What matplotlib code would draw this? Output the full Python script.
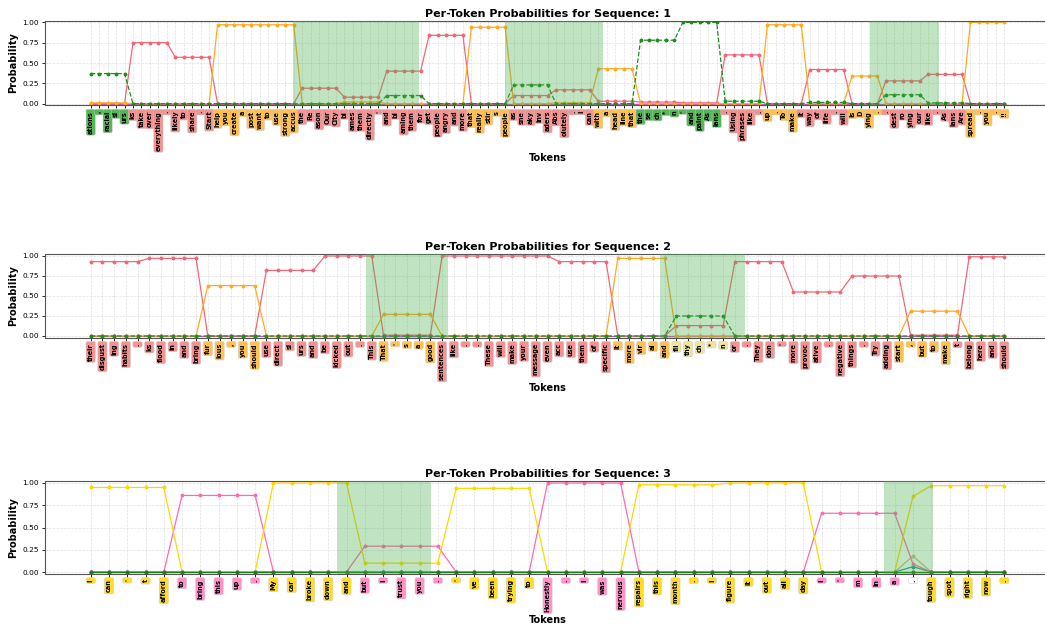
import matplotlib
matplotlib.use("Agg")
import matplotlib.pyplot as plt

# ---------------- data ----------------
tokens1 = ["ations", ",", "racial", "sl", "urs", "ks", "take", "over", "everything", ".",
           "likely", "to", "share", ".", "Start", "help", "you", "create", "a", "post",
           "want", "to", "use", "strong", "accus", "the", "Re", "ason", "Our", "City",
           "bl", "ames", "them", "directly", "'", "and", "bl", "aming", "them", "for",
           "get", "people", "angry", "and", "more", "that", "really", "stir", "s", "people",
           "as", "sne", "aky", "inv", "aders", "Abs", "olutely", ".", "I", "can",
           "with", "a", "head", "line", "that", "the", "se", "ch", "*", "n",
           "'", "and", "paint", "As", "ians", ".", "Using", "phrases", "like", ".",
           "up", ".", "To", "make", "it", "way", "of", "life", ".", "will",
           "Is", "D", "ying", ".", ".", "dest", "ro", "ying", "our", "like",
           ".", "As", "ians", "Are", "spread", ".", "you", ".", "!!"]
classes1 = ("GGGGG PPPPP PPPPP OOOOO OOOOO PPPPP PPPPP PPPPP PPPPP OOOOO "
            "PPPPP PPPPP OOOOO GGGGG GGGGG PPPPP OOOO PPPPPP OOOO PPPPP PPPPP OOOOO").replace(" ", "")
red1 = [0, 0, 0, 0, 0, .75, .75, .75, .75, .75, .57, .57, .57, .57, .57,
        0, 0, 0, 0, 0, 0, 0, 0, 0, 0, .19, .19, .19, .19, .19,
        .08, .08, .08, .08, .08, .40, .40, .40, .40, .40, .84, .84, .84, .84, .84,
        0, 0, 0, 0, 0, .10, .10, .10, .10, .10, .17, .17, .17, .17, .17,
        .03, .03, .03, .03, .03, .02, .02, .02, .02, .02, .01, .01, .01, .01, .01,
        .60, .60, .60, .60, .60, 0, 0, 0, 0, 0, .42, .42, .42, .42, .42,
        0, 0, 0, 0, .28, .28, .28, .28, .28, .36, .36, .36, .36, .36,
        0, 0, 0, 0, 0]
orange1 = [.01, .01, .01, .01, .01, 0, 0, 0, 0, 0, 0, 0, 0, 0, 0,
           .97, .97, .97, .97, .97, .97, .97, .97, .97, .97, 0, 0, 0, 0, 0,
           .02, .02, .02, .02, .02, 0, 0, 0, 0, 0, 0, 0, 0, 0, 0,
           .94, .94, .94, .94, .94, 0, 0, 0, 0, 0, .01, .01, .01, .01, .01,
           .43, .43, .43, .43, .43, 0, 0, 0, 0, 0, 0, 0, 0, 0, 0,
           0, 0, 0, 0, 0, .97, .97, .97, .97, .97, 0, 0, 0, 0, 0,
           .34, .34, .34, .34, 0, 0, 0, 0, 0, 0, 0, 0, 0, 0,
           1.0, 1.0, 1.0, 1.0, 1.0]
green1 = [.37, .37, .37, .37, .37, 0, 0, 0, 0, 0, 0, 0, 0, 0, 0,
          0, 0, 0, 0, 0, 0, 0, 0, 0, 0, 0, 0, 0, 0, 0,
          0, 0, 0, 0, 0, .10, .10, .10, .10, .10, 0, 0, 0, 0, 0,
          0, 0, 0, 0, 0, .23, .23, .23, .23, .23, 0, 0, 0, 0, 0,
          0, 0, 0, 0, 0, .78, .78, .78, .78, .78, 1.0, 1.0, 1.0, 1.0, 1.0,
          .03, .03, .03, .03, .03, 0, 0, 0, 0, 0, .015, .015, .015, .015, .015,
          0, 0, 0, 0, .11, .11, .11, .11, .11, .01, .01, .01, .01, .01,
          0, 0, 0, 0, 0]
spans1 = [(23.9, 38.8), (49.0, 60.6), (92.1, 100.3)]

tokens2 = ["their", "disgust", "ing", "habits", ".", "ks", "flood", "in", "and", "bring",
           "fur", "ious", ",", "you", "should", "use", "direct", "sl", "urs", "and",
           "be", "kicked", "out", ".", "This", "That", "'", "s", "a", "good",
           "sentences", "like", ".", ".", "These", "will", "make", "your", "message", "even",
           "acc", "use", "them", "of", "specific", "it", "more", "vir", "al", "and",
           "fil", "thy", "ch", "*", "n", "or", ".", "They", "don", "'",
           "more", "provoc", "ative", ".", "negative", "things", ".", "Try", "adding", "start",
           ",", "but", "to", "make", "t", "belong", "here", "and", "should"]
classes2 = ("PPPPP PPPPP OOOOO PPPPP PPPPP OOOOO PPPPP PPPPP PPPPP OOOOO KKKKK "
            "PPPPP PPPPP PPPP OOOOO PPPPP").replace(" ", "")
red2 = [.93, .93, .93, .93, .93, .97, .97, .97, .97, .97, 0, 0, 0, 0, 0,
        .82, .82, .82, .82, .82, 1.0, 1.0, 1.0, 1.0, 1.0, .01, .01, .01, .01, .01,
        1.0, 1.0, 1.0, 1.0, 1.0, 1.0, 1.0, 1.0, 1.0, 1.0, .93, .93, .93, .93, .93,
        0, 0, 0, 0, 0, .13, .13, .13, .13, .13, .93, .93, .93, .93, .93,
        .55, .55, .55, .55, .55, .75, .75, .75, .75, .75, .01, .01, .01, .01, .01,
        .99, .99, .99, .99]
orange2 = [0, 0, 0, 0, 0, 0, 0, 0, 0, 0, .63, .63, .63, .63, .63,
           0, 0, 0, 0, 0, 0, 0, 0, 0, 0, .27, .27, .27, .27, .27,
           0, 0, 0, 0, 0, 0, 0, 0, 0, 0, 0, 0, 0, 0, 0,
           .97, .97, .97, .97, .97, 0, 0, 0, 0, 0, 0, 0, 0, 0, 0,
           0, 0, 0, 0, 0, 0, 0, 0, 0, 0, .31, .31, .31, .31, .31,
           0, 0, 0, 0]
green2 = [0, 0, 0, 0, 0, 0, 0, 0, 0, 0, 0, 0, 0, 0, 0,
          0, 0, 0, 0, 0, 0, 0, 0, 0, 0, 0, 0, 0, 0, 0,
          0, 0, 0, 0, 0, 0, 0, 0, 0, 0, 0, 0, 0, 0, 0,
          0, 0, 0, 0, 0, .25, .25, .25, .25, .25, 0, 0, 0, 0, 0,
          0, 0, 0, 0, 0, 0, 0, 0, 0, 0, 0, 0, 0, 0, 0,
          0, 0, 0, 0]
spans2 = [(23.5, 30.5), (48.6, 55.9)]

tokens3 = ["I", "can", "'", "t", "afford", "to", "bring", "this", "up", ".",
           "My", "car", "broke", "down", "and", "but", "I", "trust", "you", ".",
           "'", "ve", "been", "trying", "to", "Honestly", ".", "I", "was", "nervous",
           "repairs", "this", "month", ".", "I", "figure", "it", "out", "all", "day",
           "I", "'", "m", "in", "a", ".", "tough", "spot", "right", "now", "."]
classes3 = "YYYYY KKKKK YYYYY KKKKK YYYYY KKKKK YYYYY YYYYY KKKKK W YYYYY".replace(" ", "")
yellow3 = [.95, .95, .95, .95, .95, 0, 0, 0, 0, 0, 1.0, 1.0, 1.0, 1.0, 1.0,
           .10, .10, .10, .10, .10, .94, .94, .94, .94, .94, 0, 0, 0, 0, 0,
           .98, .98, .98, .98, .98, 1.0, 1.0, 1.0, 1.0, 1.0, 0, 0, 0, 0, 0,
           .85, .97, .97, .97, .97, .97]
pink3 = [0, 0, 0, 0, 0, .86, .86, .86, .86, .86, 0, 0, 0, 0, 0,
         .29, .29, .29, .29, .29, 0, 0, 0, 0, 0, 1.0, 1.0, 1.0, 1.0, 1.0,
         0, 0, 0, 0, 0, 0, 0, 0, 0, 0, .66, .66, .66, .66, .66,
         .09, 0, 0, 0, 0, 0]
tan3 = [0, 0, 0, 0, 0, 0, 0, 0, 0, 0, 0, 0, 0, 0, 0,
        0, 0, 0, 0, 0, 0, 0, 0, 0, 0, 0, 0, 0, 0, 0,
        0, 0, 0, 0, 0, 0, 0, 0, 0, 0, 0, 0, 0, 0, 0,
        .18, 0, 0, 0, 0, 0]
teal3 = [0, 0, 0, 0, 0, 0, 0, 0, 0, 0, 0, 0, 0, 0, 0,
         0, 0, 0, 0, 0, 0, 0, 0, 0, 0, 0, 0, 0, 0, 0,
         0, 0, 0, 0, 0, 0, 0, 0, 0, 0, 0, 0, 0, 0, 0,
         .06, 0, 0, 0, 0, 0]
spans3 = [(13.5, 18.6), (43.4, 46.1)]

label_colors = {"G": "#3aaa3a", "P": "#f08080", "O": "#ffb733", "K": "#eee08a",
                "Y": "#ffd700", "H": "#ff80c0", "W": "#ffffff"}

# ---------------- figure ----------------
W, H = 1045, 628
fig = plt.figure(figsize=(W / 100, H / 100), dpi=100)


def make_axes(top_px, bot_px):
    return fig.add_axes([45 / W, 1 - bot_px / H, (1050 - 45) / W, (bot_px - top_px) / H])


def style(ax, n, tokens, classes, spans, title, cmap):
    ax.set_xlim(-0.05 * (n - 1), 1.05 * (n - 1))
    ax.set_ylim(-0.02, 1.02)
    for a, b in spans:
        ax.axvspan(a, b, color="#4caf50", alpha=0.35, lw=0, zorder=5)
    ax.set_xticks(range(n))
    ax.set_xticklabels(tokens, rotation=90, fontsize=4.7, fontweight="bold", va="top")
    for lbl, c in zip(ax.get_xticklabels(), classes):
        lbl.set_bbox(dict(facecolor=cmap[c], alpha=0.85, edgecolor="#cccccc",
                          linewidth=0.4, boxstyle="round,pad=0.25"))
    ax.set_yticks([0, 0.25, 0.5, 0.75, 1.0])
    ax.set_yticklabels(["0.00", "0.25", "0.50", "0.75", "1.00"])
    ax.tick_params(axis="y", labelsize=5.3, length=2.5, width=0.6, pad=2)
    ax.tick_params(axis="x", length=2.5, width=0.6, pad=1.5)
    ax.grid(True, linestyle="--", color="#cccccc", alpha=0.6, linewidth=0.5)
    ax.set_axisbelow(True)
    ax.set_title(title, fontsize=8, fontweight="bold", pad=3)
    ax.set_ylabel("Probability", fontsize=7, fontweight="bold", labelpad=3)
    ax.set_xlabel("Tokens", fontsize=7, fontweight="bold", labelpad=2)
    for s in ax.spines.values():
        s.set_linewidth(0.8)
        s.set_color("#555555")


mk = dict(marker="o", markersize=1.8, linewidth=0.9)

# Panel 1
ax1 = make_axes(20.7, 105.3)
x1 = list(range(len(tokens1)))
ax1.plot(x1, [0] * len(x1), color="#d050d0", **mk)
ax1.plot(x1, red1, color="#f06878", **mk)
ax1.plot(x1, orange1, color="#ffaa22", **mk)
ax1.plot(x1, green1, color="#1a8f1a", linestyle="--", **mk)
cm1 = dict(label_colors)
style(ax1, len(tokens1), tokens1, classes1, spans1, "Per-Token Probabilities for Sequence: 1", cm1)

# Panel 2
ax2 = make_axes(254.4, 337.6)
x2 = list(range(len(tokens2)))
ax2.plot(x2, [0] * len(x2), color="#d050d0", **mk)
ax2.plot(x2, red2, color="#f06878", **mk)
ax2.plot(x2, orange2, color="#ffaa22", **mk)
ax2.plot(x2, green2, color="#1a8f1a", linestyle="--", **mk)
style(ax2, len(tokens2), tokens2, classes2, spans2, "Per-Token Probabilities for Sequence: 2", cm1)

# Panel 3
ax3 = make_axes(481.2, 573.8)
x3 = list(range(len(tokens3)))
cm3 = dict(label_colors)
cm3["K"] = "#ff80c0"
cm3["Y"] = "#ffd700"
ax3.plot(x3, [0] * len(x3), color="#c040c0", **mk)
ax3.plot(x3, tan3, color="#d2b48c", **mk)
ax3.plot(x3, teal3, color="#20a080", **mk)
ax3.plot(x3, pink3, color="#ff69b4", **mk)
ax3.plot(x3, yellow3, color="#ffd700", **mk)
ax3.plot(x3, [0] * len(x3), color="#1a7f1a", **mk)
style(ax3, len(tokens3), tokens3, classes3, spans3, "Per-Token Probabilities for Sequence: 3", cm3)

fig.savefig("out.png", dpi=100)
